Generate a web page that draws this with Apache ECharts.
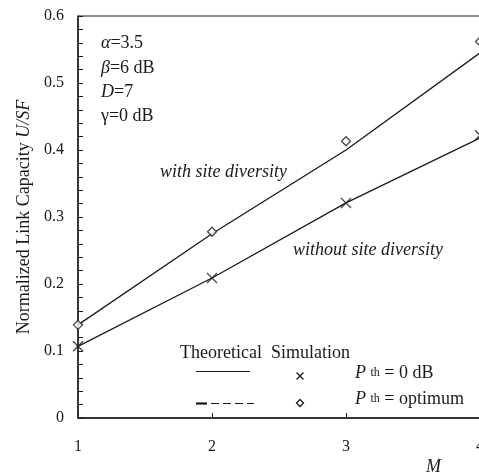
<!DOCTYPE html>
<html><head><meta charset="utf-8">
<script src="https://cdn.jsdelivr.net/npm/echarts@6/dist/echarts.min.js"></script>
<style>html,body{margin:0;padding:0;background:#fff}#c{width:479px;height:474px}</style>
</head><body><div id="c"></div>
<script>
var mValues = [1, 2, 3, 4];
var theoWith = [0.139, 0.275, 0.400, 0.545];
var theoWithout = [0.107, 0.209, 0.321, 0.418];
var simOptimum = [0.139, 0.278, 0.413, 0.562];
var simZero = [0.107, 0.209, 0.321, 0.422];
var yTicks = [0, 0.1, 0.2, 0.3, 0.4, 0.5, 0.6];

function pairs(ys){ return mValues.map(function(m,i){ return [m, ys[i]]; }); }
var F = '"Liberation Serif", "Times New Roman", serif';
var C = '#1a1a1a';
var FS = 18;
var chart = echarts.init(document.getElementById('c'));
var cross = 'path://M0,0L10,10M10,0L0,10';
function txt(x, y, text, italic, rich){
  var st = {text: text, font: (italic ? 'italic ' : '') + FS + 'px ' + F, fill: C, verticalAlign: 'middle', align: 'left'};
  if (rich) st.rich = rich;
  return {type: 'text', x: x, y: y, style: st};
}
var richI = {i: {fontStyle: 'italic', fontFamily: F, fontSize: FS, fill: C}, s: {fontFamily: F, fontSize: 12, fill: C}};
chart.setOption({
  animation: false,
  grid: {left: 78, right: -1, top: 16, bottom: 56, show: true, borderColor: C, borderWidth: 1, outerBoundsMode: 'none'},
  xAxis: {
    type: 'value', min: 1, max: 4, interval: 1,
    axisLine: {lineStyle: {color: C, width: 1.5}},
    axisTick: {inside: true, length: 5, lineStyle: {color: C}},
    splitLine: {show: false},
    axisLabel: {fontFamily: F, fontSize: 16, color: C, margin: 21}
  },
  yAxis: {
    type: 'value', min: 0, max: 0.6, interval: 0.1,
    axisLine: {show: true, lineStyle: {color: C, width: 1.5}},
    axisTick: {inside: true, length: 5, lineStyle: {color: C}},
    minorTick: {show: true, splitNumber: 5, length: 5, lineStyle: {color: C}},
    splitLine: {show: false},
    axisLabel: {fontFamily: F, fontSize: 16, color: C, margin: 14,
      formatter: function(v){ var s = yTicks.find(function(t){return Math.abs(t-v)<1e-9;}); return s===undefined? '' : String(s); }},
    name: '{n|Normalized Link Capacity }{i|U/SF}',
    nameLocation: 'middle', nameGap: 36,
    nameTextStyle: {rich: {
      n: {fontFamily: F, fontSize: FS, color: C},
      i: {fontFamily: F, fontSize: FS, color: C, fontStyle: 'italic'}
    }}
  },
  series: [
    {type: 'line', data: pairs(theoWith), showSymbol: false, symbol: 'none', lineStyle: {color: C, width: 1.3}, z: 2},
    {type: 'line', data: pairs(theoWithout), showSymbol: false, symbol: 'none', lineStyle: {color: C, width: 1.3}, z: 2},
    {type: 'scatter', data: pairs(simOptimum), symbol: 'diamond', symbolSize: 9,
      itemStyle: {color: '#fff', borderColor: C, borderWidth: 1.3}, z: 3},
    {type: 'scatter', data: pairs(simZero), symbol: cross, symbolSize: 10,
      itemStyle: {color: 'none', borderColor: C, borderWidth: 1.3}, z: 3}
  ],
  graphic: [
    txt(101, 43, '{i|α}=3.5', false, richI),
    txt(101, 68, '{i|β}=6 dB', false, richI),
    txt(101, 92, '{i|D}=7', false, richI),
    txt(101, 116, 'γ=0 dB', false),
    txt(160, 172, 'with site diversity', true),
    txt(293, 250, 'without site diversity', true),
    txt(180, 353, 'Theoretical  Simulation', false),
    {type: 'line', shape: {x1: 196, y1: 371.5, x2: 250, y2: 371.5}, style: {stroke: C, lineWidth: 1.2}},
    {type: 'line', shape: {x1: 196, y1: 403.5, x2: 207, y2: 403.5}, style: {stroke: C, lineWidth: 2.2}},
    {type: 'line', shape: {x1: 211, y1: 403.5, x2: 254, y2: 403.5}, style: {stroke: C, lineWidth: 1.2, lineDash: [8, 4]}},
    txt(355, 373, '{i|P} {s|th} = 0 dB', false, richI),
    txt(355, 399, '{i|P} {s|th} = optimum', false, richI),
    txt(426, 467, 'M', true),
    {type: 'line', shape: {x1: 296.5, y1: 372.5, x2: 303.5, y2: 379.5}, style: {stroke: C, lineWidth: 1.2}},
    {type: 'line', shape: {x1: 303.5, y1: 372.5, x2: 296.5, y2: 379.5}, style: {stroke: C, lineWidth: 1.2}},
    {type: 'polygon', shape: {points: [[300,399.5],[303.5,403],[300,406.5],[296.5,403]]}, style: {stroke: C, lineWidth: 1.3, fill: '#fff'}}
  ]
});
</script></body></html>
